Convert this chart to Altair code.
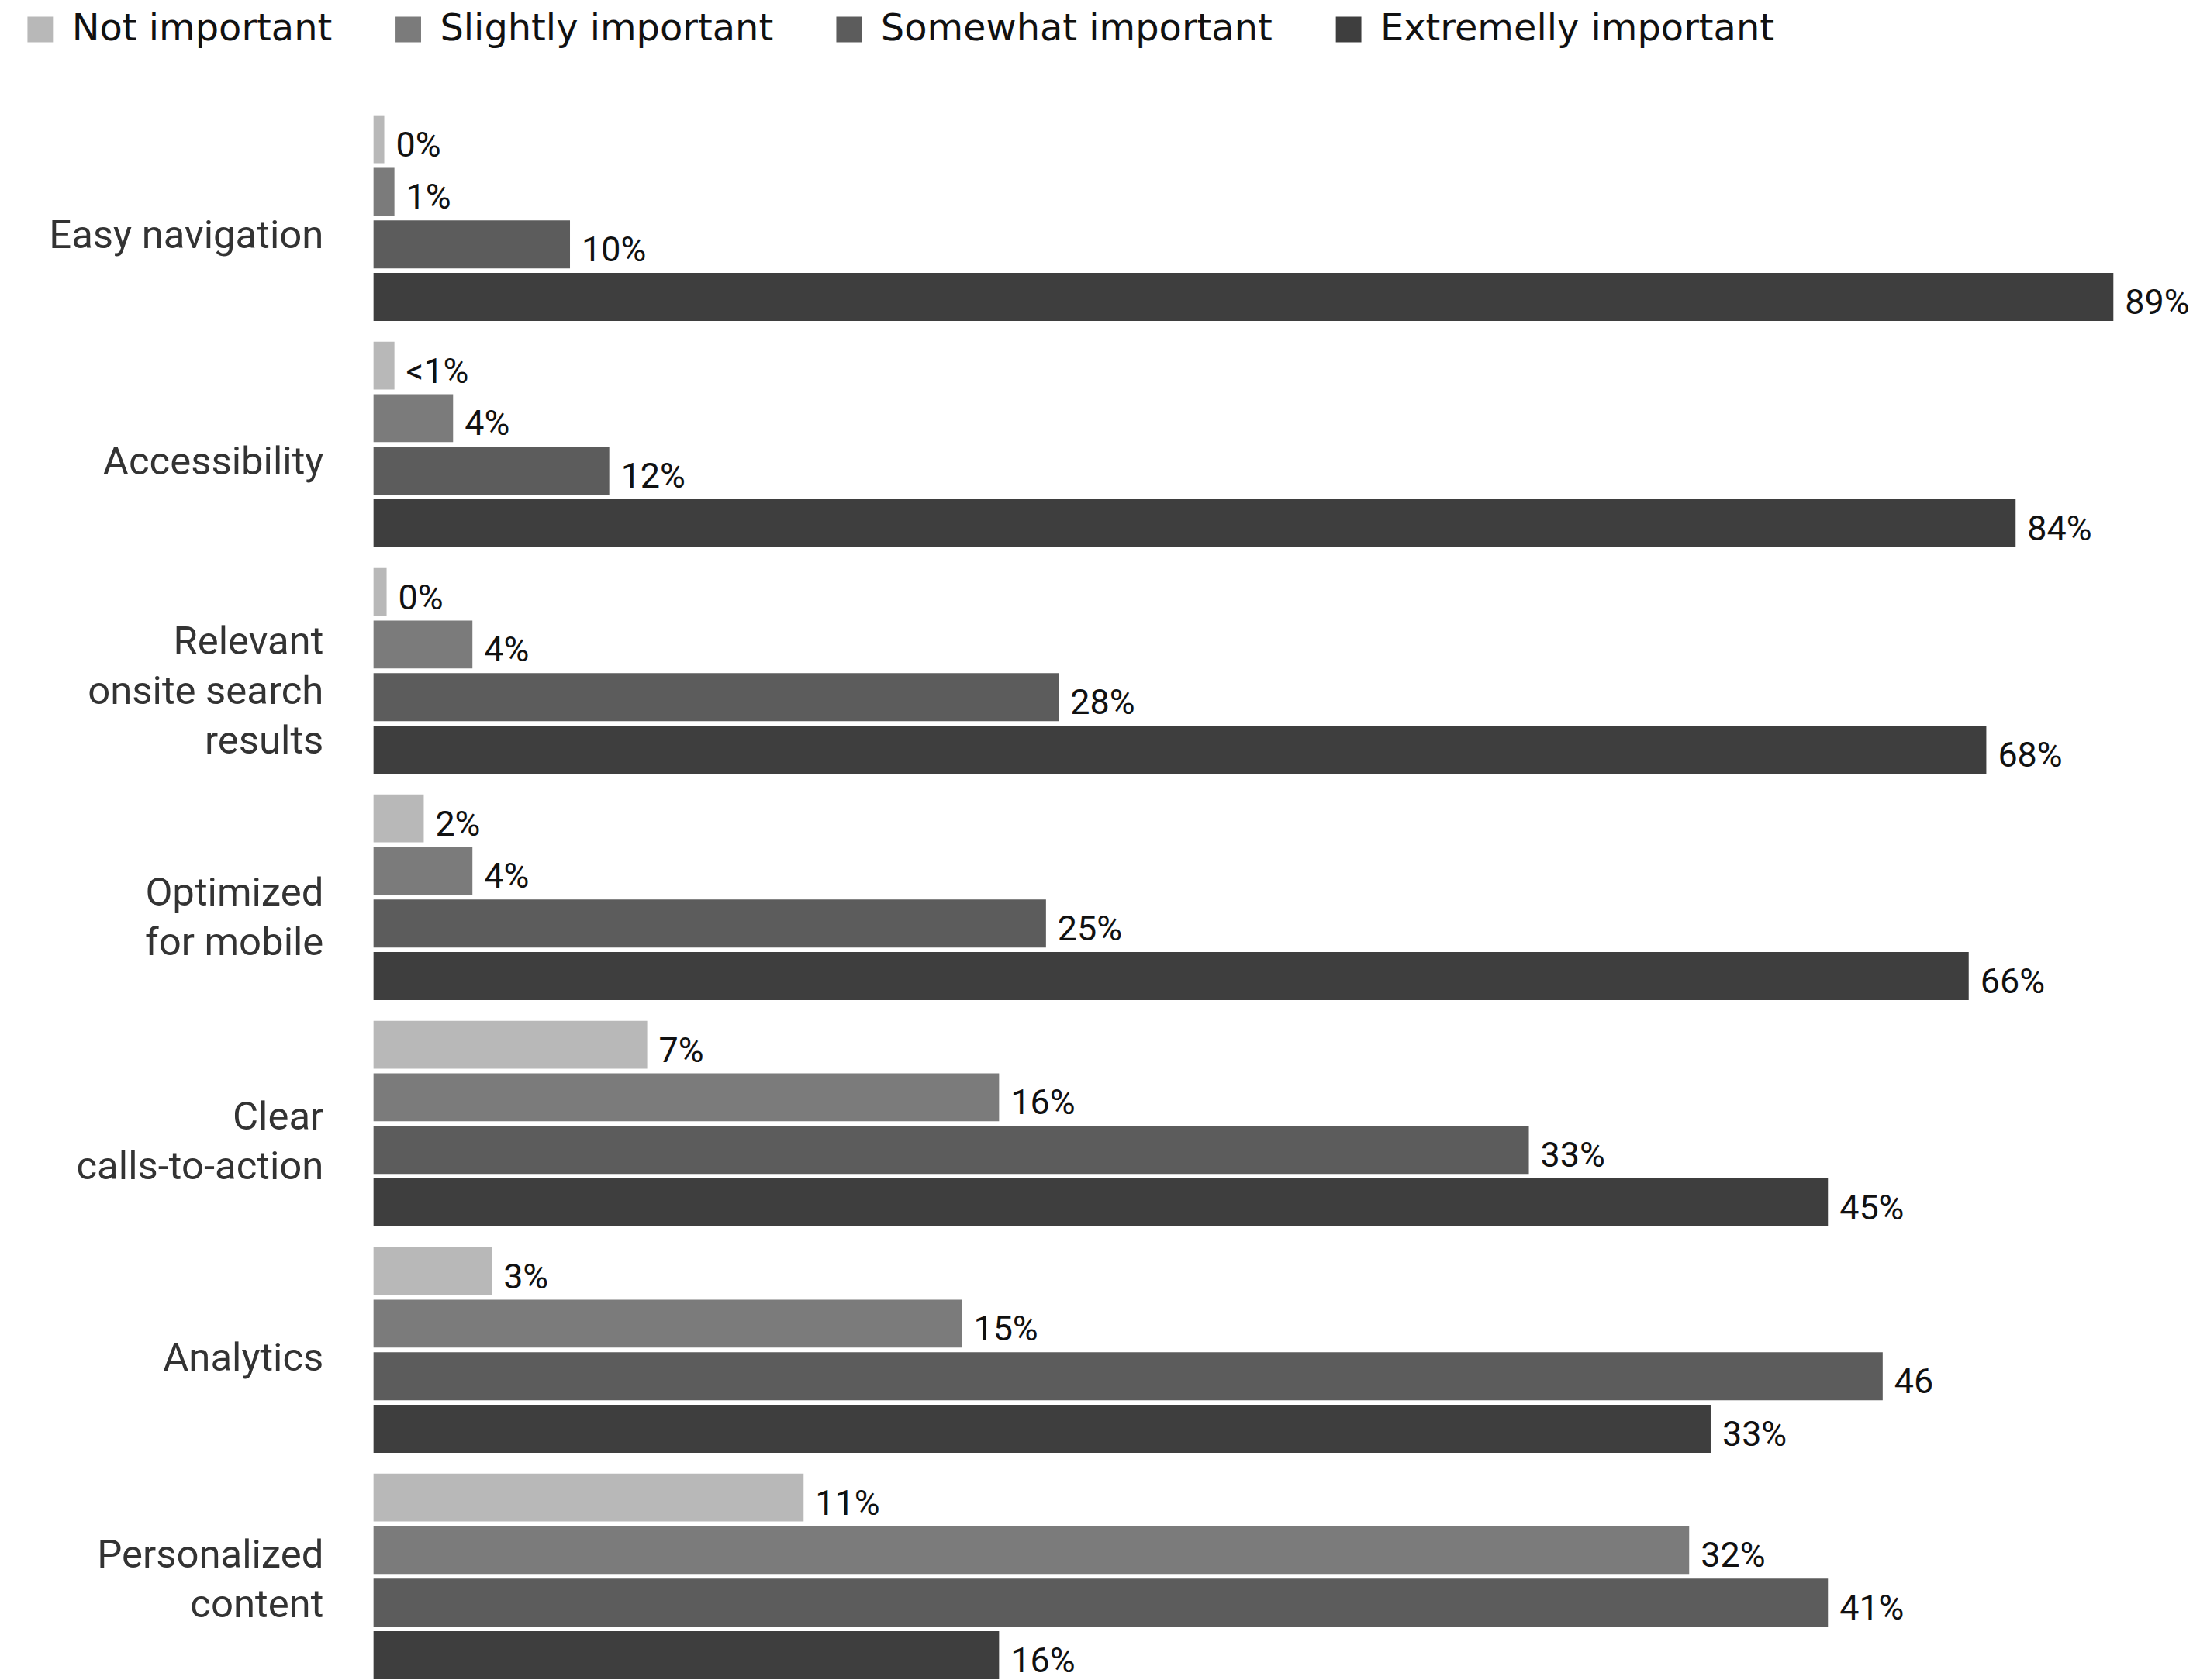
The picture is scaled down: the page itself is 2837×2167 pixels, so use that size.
import altair as alt
import pandas as pd

categories = [
    "Easy navigation",
    "Accessibility",
    "Relevant\nonsite search\nresults",
    "Optimized\nfor mobile",
    "Clear\ncalls-to-action",
    "Analytics",
    "Personalized\ncontent",
]
series = ["Not important", "Slightly important", "Somewhat important", "Extremelly important"]
colors = ["#b8b8b8", "#7b7b7b", "#5c5c5c", "#3e3e3e"]

# bar lengths as drawn in the picture (same units as the 89% bar)
not_important = [0.55, 1.07, 0.67, 2.57, 14.0, 6.05, 22.0]
slightly = [1.07, 4.07, 5.06, 5.06, 32.0, 30.1, 67.3]
somewhat = [10.05, 12.06, 35.05, 34.4, 59.1, 77.2, 74.4]
extremely = [89.0, 84.0, 82.5, 81.6, 74.4, 68.4, 32.0]

# printed value labels
not_important_lbl = ["0%", "<1%", "0%", "2%", "7%", "3%", "11%"]
slightly_lbl = ["1%", "4%", "4%", "4%", "16%", "15%", "32%"]
somewhat_lbl = ["10%", "12%", "28%", "25%", "33%", "46", "41%"]
extremely_lbl = ["89%", "84%", "68%", "66%", "45%", "33%", "16%"]

rows = []
for s, vals, lbls in zip(
    series,
    [not_important, slightly, somewhat, extremely],
    [not_important_lbl, slightly_lbl, somewhat_lbl, extremely_lbl],
):
    for c, v, l in zip(categories, vals, lbls):
        rows.append({"category": c, "series": s, "value": v, "label": l})
df = pd.DataFrame(rows)

label_offset = {
    "condition": [
        {"test": "indexof(datum.value, 'Relevant') == 0", "value": -36},
        {"test": "indexof(datum.value, 'Optimized') == 0", "value": -4},
        {"test": "indexof(datum.value, 'Clear') == 0", "value": -7},
        {"test": "indexof(datum.value, 'Personalized') == 0", "value": -26},
        {"test": "indexof(datum.value, 'Analytics') == 0", "value": 12},
    ],
    "value": 24,
}

base = alt.Chart(df).encode(
    y=alt.Y(
        "category:N",
        sort=categories,
        scale=alt.Scale(paddingInner=0.0915, paddingOuter=0),
        axis=alt.Axis(
            title=None,
            domain=False,
            ticks=False,
            labelPadding=65,
            labelFontSize=51,
            labelFont="Roboto",
            labelColor="#333333",
            labelLineHeight=64,
            labelLimit=0,
            labelOffset=label_offset,
            labelExpr="split(datum.label, '\\n')",
        ),
    ),
    yOffset=alt.YOffset(
        "series:N", sort=series, scale=alt.Scale(paddingInner=0.088, paddingOuter=0)
    ),
)

bars = base.mark_bar().encode(
    x=alt.X("value:Q", scale=alt.Scale(domain=[0, 89], nice=False, zero=True), axis=None),
    color=alt.Color(
        "series:N",
        sort=series,
        scale=alt.Scale(domain=series, range=colors),
        legend=alt.Legend(
            title=None,
            orient="none",
            legendX=-455,
            legendY=-135,
            direction="horizontal",
            symbolType="square",
            symbolSize=1089,
            symbolStrokeWidth=0,
            labelFontSize=48,
            labelFont="DejaVu Sans",
            labelColor="#111111",
            labelOffset=17,
            columnPadding=74,
            padding=0,
            labelLimit=0,
        ),
    ),
)

text = base.mark_text(
    align="left", baseline="alphabetic", dx=15, dy=22, font="Roboto", fontSize=45, color="#111111"
).encode(x=alt.X("value:Q"), text="label:N")

chart = (
    (bars + text)
    .properties(
        width=2250,
        height=2023,
        padding={"left": 20, "top": 3, "right": 5, "bottom": 0},
        background="#ffffff",
    )
    .configure_view(stroke=None)
)

chart.save("out.html", embed_options={"renderer": "svg", "actions": False})
